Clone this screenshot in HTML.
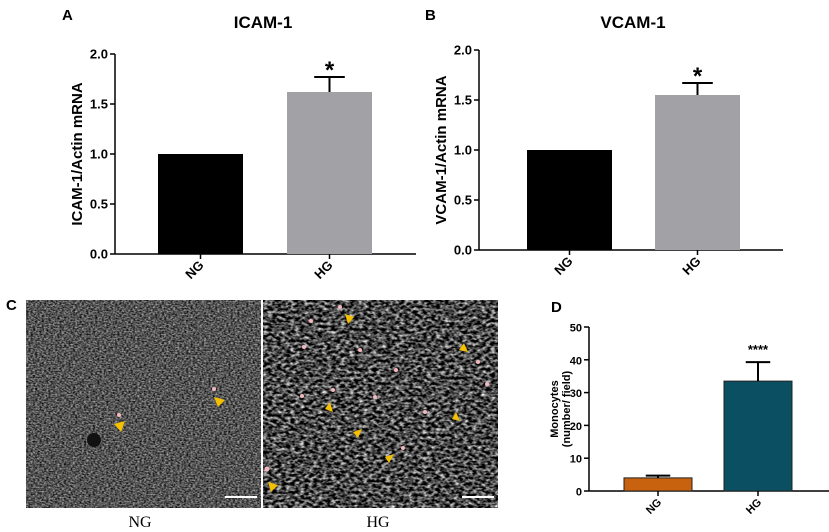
<!DOCTYPE html>
<html><head><meta charset="utf-8"><style>
body{margin:0;background:#fff}
svg{display:block;font-family:"Liberation Sans",Arial,sans-serif}
.t{font-weight:bold;font-size:13px}
</style></head><body>
<svg width="829" height="532" viewBox="0 0 829 532">
<defs>
<filter id="cellsA" x="0" y="0" width="100%" height="100%" color-interpolation-filters="sRGB">
<feTurbulence type="fractalNoise" baseFrequency="0.45 0.7" numOctaves="2" seed="3"/>
<feColorMatrix type="matrix" values="1.0 0 0 0 -0.17  1.0 0 0 0 -0.17  1.0 0 0 0 -0.17  0 0 0 0 1"/>
</filter>
<filter id="cellsB" x="0" y="0" width="100%" height="100%" color-interpolation-filters="sRGB">
<feTurbulence type="fractalNoise" baseFrequency="0.22 0.35" numOctaves="2" seed="7"/>
<feColorMatrix type="matrix" values="1.8 0 0 0 -0.62  1.8 0 0 0 -0.62  1.8 0 0 0 -0.62  0 0 0 0 1"/>
</filter>
</defs>
<g id="charts"></g>
<!-- Panel C -->
<text x="6" y="310" class="t" style="font-size:15px">C</text>
<rect x="26" y="300" width="235" height="208" fill="#4a4a4a"/>
<rect x="26" y="300" width="235" height="208" filter="url(#cellsA)"/>
<circle cx="94" cy="440" r="7" fill="#111"/>
<rect x="263" y="300" width="235" height="208" fill="#333"/>
<rect x="263" y="300" width="235" height="208" filter="url(#cellsB)"/>
<g fill="#f5c000">
<polygon points="114,424 125,421 121,432"/><polygon points="214,397 225,400 218,407"/>
<polygon points="345,314 354,317 348,324"/><polygon points="464,343 468,352 459,350"/>
<polygon points="330,402 333,412 325,409"/><polygon points="353,432 362,429 358,438"/>
<polygon points="385,457 394,454 389,463"/><polygon points="456,412 460,421 452,419"/>
<polygon points="268,482 278,485 271,492"/>
</g>
<g fill="#f3b8c0">
<circle cx="340" cy="307" r="2"/><circle cx="311" cy="321" r="2"/><circle cx="304" cy="347" r="2"/><circle cx="360" cy="350" r="2"/><circle cx="396" cy="370" r="2"/><circle cx="302" cy="396" r="2"/><circle cx="333" cy="390" r="2"/><circle cx="375" cy="397" r="2"/><circle cx="425" cy="412" r="2"/><circle cx="478" cy="362" r="2"/><circle cx="487" cy="384" r="2"/><circle cx="267" cy="469" r="2.5"/><circle cx="403" cy="448" r="2"/><circle cx="214" cy="389" r="2"/><circle cx="119" cy="415" r="2"/>
</g>
<rect x="225" y="496" width="32" height="2" fill="#fff"/>
<rect x="462" y="496" width="32" height="2" fill="#fff"/>
<text x="140" y="527" text-anchor="middle" font-family="Liberation Serif,serif" font-size="16">NG</text>
<text x="378" y="527" text-anchor="middle" font-family="Liberation Serif,serif" font-size="16">HG</text>
</svg>
<script>
const categories=["NG","HG"];
const icamValues=[1.0,1.62];
const icamErr=[0,0.15];
const vcamValues=[1.0,1.55];
const vcamErr=[0,0.12];
const monoValues=[4,33.5];
const monoErr=[0.7,5.8];
const mrnaTicks=["0.0","0.5","1.0","1.5","2.0"];
const monoTicks=["0","10","20","30","40","50"];
const NS="http://www.w3.org/2000/svg";
const root=document.getElementById('charts');
function mk(tag,attrs,parent){const e=document.createElementNS(NS,tag);for(const k in attrs)e.setAttribute(k,attrs[k]);(parent||root).appendChild(e);return e;}
function panel(cfg){
 const g=mk('g',{});
 
 
 const y=v=>cfg.y0-(v-0)/cfg.max*(cfg.y0-cfg.yTop);
 const ax=mk('line',{x1:cfg.ax,y1:cfg.yTop,x2:cfg.ax,y2:cfg.y0,stroke:'#000','stroke-width':1.5},g);
 
 const xa=mk('line',{x1:cfg.ax,y1:cfg.y0,x2:cfg.xEnd,y2:cfg.y0,stroke:'#000','stroke-width':1.5},g);
 
 cfg.ticks.forEach(t=>{const v=parseFloat(t);const yy=y(v);
  mk('line',{x1:cfg.ax-5,y1:yy,x2:cfg.ax,y2:yy,stroke:'#000','stroke-width':1.5},g);
  const tx=mk('text',{x:cfg.ax-7,y:yy+4.5,'text-anchor':'end','font-weight':'bold','font-size':cfg.fs},g);
  tx.textContent=t;
  });
 categories.forEach((c,i)=>{
  const x0=cfg.bx[i],w=cfg.bw,cx=x0+w/2,v=cfg.vals[i],top=y(v);
  const b=mk('rect',{x:x0,y:top,width:w,height:cfg.y0-top,fill:cfg.colors[i],stroke:cfg.stroke||'none','stroke-width':1},g);
  
  if(cfg.err[i]>0){const et=y(v+cfg.err[i]);
   const e=mk('path',{d:`M${cx},${top}V${et}M${cx-w*0.18},${et}H${cx+w*0.18}`,stroke:'#000','stroke-width':2,fill:'none'},g);
   }
  mk('line',{x1:cx,y1:cfg.y0,x2:cx,y2:cfg.y0+5,stroke:'#000','stroke-width':1.5},g);
  const lx=mk('text',{x:cx+4,y:cfg.y0+12,'text-anchor':'end','font-weight':'bold','font-size':cfg.fs,transform:`rotate(-45 ${cx+4} ${cfg.y0+12})`},g);
  lx.textContent=c;
 });
 const hi=cfg.vals[1]+cfg.err[1];
 const s=mk('text',{x:cfg.bx[1]+cfg.bw/2,y:y(hi)-cfg.starGap,'text-anchor':'middle','font-weight':'bold','font-size':cfg.starFs},g);
 s.textContent=cfg.star;
 const yl=mk('text',{x:cfg.ylx,y:(cfg.y0+cfg.yTop)/2,'text-anchor':'middle','font-weight':'bold','font-size':cfg.ylfs,transform:`rotate(-90 ${cfg.ylx} ${(cfg.y0+cfg.yTop)/2})`},g);
 cfg.ylabel.forEach((l,i)=>{const ts=mk('tspan',{x:cfg.ylx,dy:i?cfg.ylfs+1:0},yl);ts.textContent=l;});
 
 if(cfg.title){const tt=mk('text',{x:cfg.tx,y:28,'text-anchor':'middle','font-weight':'bold','font-size':17},g);
  tt.textContent=cfg.title;}
 const pl=mk('text',{x:cfg.plx,y:cfg.ply,'font-weight':'bold','font-size':15},g);
 pl.textContent=cfg.pl;
}
panel({name:'icam-chart',ax:115,y0:254,yTop:54,max:2,xEnd:416,ticks:mrnaTicks,fs:13,bx:[158,287],bw:85,vals:icamValues,err:icamErr,colors:['#000','#a2a2a6'],star:'*',starFs:24,starGap:-1,ylx:82,ylfs:15,ylabel:['ICAM-1/Actin mRNA'],title:'ICAM-1',tx:263,pl:'A',plx:62,ply:20});
panel({name:'vcam-chart',ax:479,y0:250,yTop:50,max:2,xEnd:783,ticks:mrnaTicks,fs:13,bx:[527,655],bw:85,vals:vcamValues,err:vcamErr,colors:['#000','#a2a2a6'],star:'*',starFs:24,starGap:-1,ylx:446,ylfs:15,ylabel:['VCAM-1/Actin mRNA'],title:'VCAM-1',tx:633,pl:'B',plx:425,ply:20});
panel({name:'monocyte-chart',ax:589,y0:491,yTop:327,max:50,xEnd:829,ticks:monoTicks,fs:11,bx:[624,724],bw:68,vals:monoValues,err:monoErr,colors:['#c8620e','#0b4f63'],stroke:'#222',star:'****',starFs:13,starGap:8,ylx:558,ylfs:11,ylabel:['Monocytes','(number/ field)'],title:null,pl:'D',plx:551,ply:312});
</script>
</body></html>
